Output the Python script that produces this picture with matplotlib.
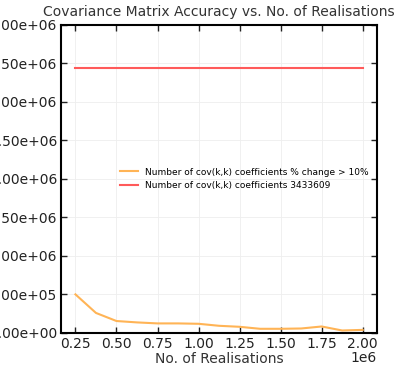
import numpy as np
import matplotlib.pyplot as plt
import matplotlib.ticker as mticker

# numero de realizaciones y coeficientes
realisations = np.arange(250000, 2000001, 125000)
changed = [500000, 259000, 154000, 136000, 123000, 123000, 118000, 92000,
           79000, 53000, 53000, 57000, 83000, 31000, 39000]
total_coeffs = 3433609

fig = plt.figure(figsize=(3.94, 3.65), dpi=100)
ax = fig.add_axes([0.155, 0.088, 0.802, 0.844])

ax.plot(realisations, changed, color='#ffb456', lw=1.5,
        label='Number of cov(k,k) coefficients % change > 10%')
ax.plot(realisations, [total_coeffs] * len(realisations), color='#ff5a5a', lw=1.5,
        label='Number of cov(k,k) coefficients %d' % total_coeffs)

ax.set_ylim(0, 4000000)
ax.set_xticks(np.arange(250000, 2000001, 250000))
ax.set_yticks(np.arange(0, 4000001, 500000))
ax.yaxis.set_major_formatter(mticker.FormatStrFormatter('%.2e'))

ax.tick_params(direction='in', top=True, right=True, length=4, width=1,
               labelsize=10, colors='#222222', pad=3)
for s in ax.spines.values():
    s.set_linewidth(1.5)
ax.grid(color='#eeeeee', lw=0.6)

# subimos el texto "1e6" para que no quede cortado
ax.xaxis.OFFSETTEXTPAD = 0

ax.set_title('Covariance Matrix Accuracy vs. No. of Realisations', fontsize=10, color='#333333')
ax.set_xlabel('No. of Realisations', fontsize=10, color='#333333', labelpad=1)
ax.legend(loc='center right', frameon=False, fontsize=6.5)

fig.savefig('out.png', dpi=100)
